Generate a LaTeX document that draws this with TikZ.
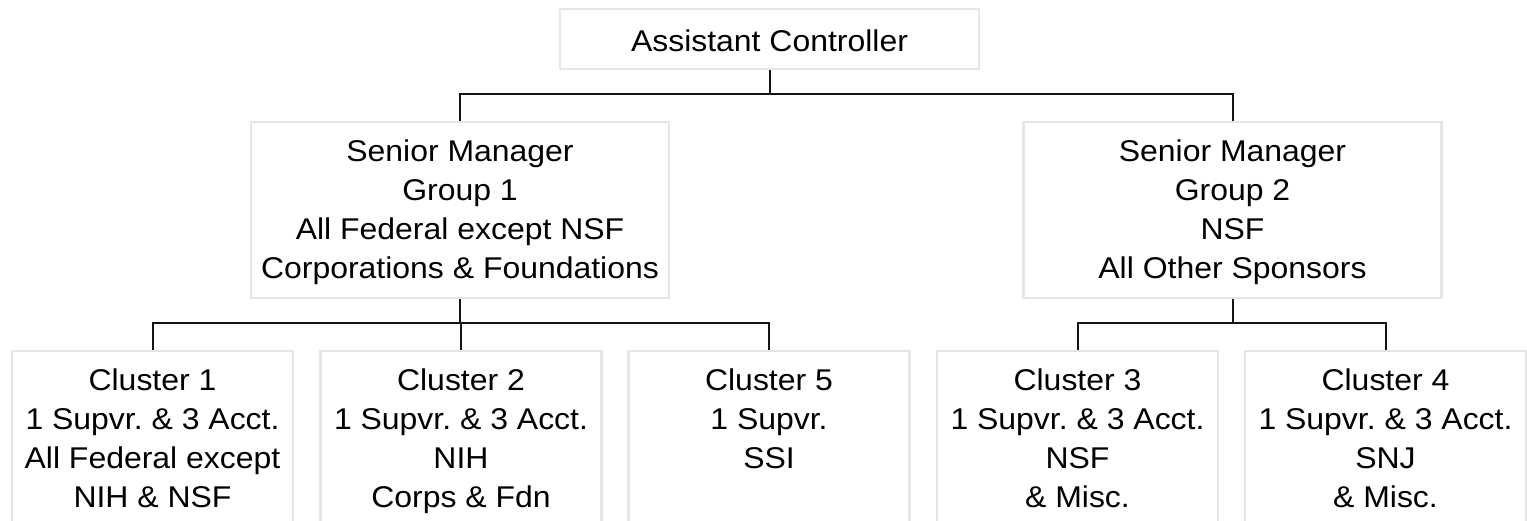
\documentclass[tikz,border=0pt]{standalone}
\usepackage{fontspec}
\setmainfont[FakeStretch=1.065]{Liberation Sans}
\usetikzlibrary{calc}
\frenchspacing
\definecolor{boxrim}{HTML}{E6E6E6}
\definecolor{linkblk}{HTML}{141414}
\tikzset{
  orgbox/.style  = {draw=boxrim, line width=2.5pt, fill=white, align=center,
                    inner xsep=0pt, inner ysep=0pt, anchor=north,
                    font=\fontsize{30}{39}\selectfont},
  topbox/.style  = {orgbox, minimum width=419pt, text height=42pt, text depth=18pt},
  mgrbox/.style  = {orgbox, minimum width=418pt, text height=156pt, text depth=20pt},
  clubox/.style  = {orgbox, minimum width=281pt, text height=156pt, text depth=24pt},
  clushort/.style = {clubox, text height=117pt, text depth=63pt},
  link/.style    = {draw=linkblk, line width=2pt},
}

\begin{document}
\begin{tikzpicture}[x=1pt, y=-1pt]
  \useasboundingbox (0,0) rectangle (1527,521);
  \clip (0,0) rectangle (1527,521);
  % top level
  \node[topbox] (ac) at (769.5,8) {Assistant Controller};
  % senior managers
  \node[mgrbox] (sm1) at (460,121)
    {Senior Manager\\Group 1\\All Federal except NSF\\Corporations \& Foundations};
  \node[mgrbox] (sm2) at (1232.5,121)
    {Senior Manager\\Group 2\\NSF\\All Other Sponsors};
  % clusters
  \node[clubox] (cl1) at (152.5,350)
    {Cluster 1\\1 Supvr. \& 3 Acct.\\All Federal except\\NIH \& NSF};
  \node[clubox] (cl2) at (461,350)
    {Cluster 2\\1 Supvr. \& 3 Acct.\\NIH\\Corps \& Fdn};
  \node[clushort] (cl5) at (769,350)
    {Cluster 5\\1 Supvr.\\SSI};
  \node[clubox] (cl3) at (1077.5,350)
    {Cluster 3\\1 Supvr. \& 3 Acct.\\NSF\\\& Misc.};
  \node[clubox] (cl4) at (1385.5,350)
    {Cluster 4\\1 Supvr. \& 3 Acct.\\SNJ\\\& Misc.};
  % buses
  \coordinate (busT) at (769.5,94);
  \coordinate (busA) at (460,323);
  \coordinate (busB) at (1232.5,323);
  \draw[link] (ac.south) -- (busT);
  \draw[link] (sm1.north) |- (busT) -| (sm2.north);
  \draw[link] (sm1.south) -- (busA);
  \draw[link] (cl1.north) |- (busA) -| (cl5.north);
  \draw[link] (cl2.north) -- (cl2.north |- busA);
  \draw[link] (sm2.south) -- (busB);
  \draw[link] (cl3.north) |- (busB) -| (cl4.north);
\end{tikzpicture}
\end{document}
